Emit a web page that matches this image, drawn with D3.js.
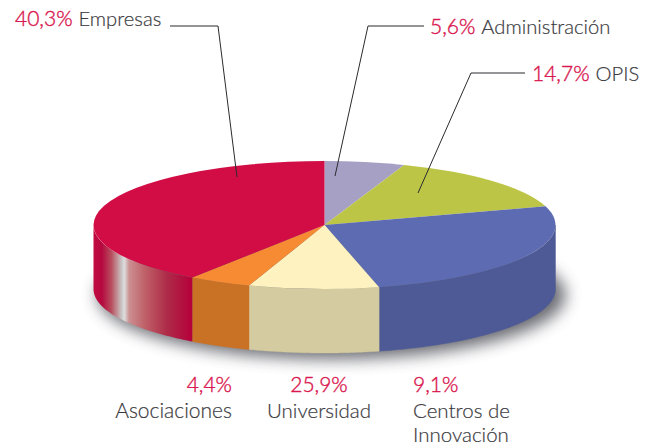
<!DOCTYPE html>
<html>
<head>
<meta charset="utf-8">
<script src="https://cdn.jsdelivr.net/npm/d3@7"></script>
<style>
html,body{margin:0;padding:0;background:#fff;overflow:hidden}
svg{display:block}
text{font-family:Lato,sans-serif;font-weight:300}
</style>
</head>
<body>
<svg id="c" width="654" height="445"></svg>
<script>
// Slice order runs clockwise from 12 o'clock
const sliceKeys = ["admin","opis","centros","universidad","asociaciones","empresas"];
const sliceValues = [5.6,14.7,25.9,9.1,4.4,40.3];
const topColors = ["#a7a0c5","#bdc546","#5d6cb2","#fef2c0","#f68b33","#d20d45"];
const sideColors = ["#8f89ab","#9ea53a","#4e5a96","#d4cba0","#c97226","#b5003a"];

// Labels as printed
const labelPcts = ["40,3%","5,6%","14,7%","4,4%","25,9%","9,1%"];
const labelNames = ["Empresas","Administración","OPIS","Asociaciones","Universidad","Centros de|Innovación"];
const pctColor = "#d9184f", nameColor = "#3a3a40";

const cx=324.5, cy=225, rx=231, ry=64, depth=64;
const svg=d3.select("#c");
const defs=svg.append("defs");

defs.append("filter").attr("id","blur").attr("x","-20%").attr("y","-40%").attr("width","140%").attr("height","180%")
  .append("feGaussianBlur").attr("stdDeviation",8);

const redGrad=defs.append("linearGradient").attr("id","redSide")
  .attr("gradientUnits","userSpaceOnUse").attr("x1",94).attr("x2",192).attr("y1",0).attr("y2",0);
[[0,"#c20a42"],[0.08,"#b5093f"],[0.18,"#b8505f"],[0.28,"#c9c3c3"],[0.31,"#dcdcdc"],[0.36,"#cb8f92"],[0.52,"#bf6068"],[0.75,"#ae2a48"],[1,"#b5003a"]]
  .forEach(([o,c])=>redGrad.append("stop").attr("offset",o).attr("stop-color",c));

const pie=d3.pie().sort(null).value(d=>d)(sliceValues);
const ex=d3.scaleLinear().domain([-1,1]).range([cx-rx,cx+rx]);
const ey=d3.scaleLinear().domain([-1,1]).range([cy-ry,cy+ry]);

// Shadow under the pie
svg.append("ellipse").attr("cx",cx+7).attr("cy",cy+depth+6).attr("rx",rx+3).attr("ry",ry)
  .attr("fill","#55565f").attr("opacity",.88).attr("filter","url(#blur)");

// Side walls: only the part of each arc on the front half of the ellipse is visible
const wall=d3.area().x(d=>ex(Math.sin(d))).y0(d=>ey(-Math.cos(d))).y1(d=>ey(-Math.cos(d))+depth);
svg.append("g").selectAll("path").data(pie).join("path")
  .attr("d",d=>{
    const a0=Math.max(d.startAngle,Math.PI/2), a1=Math.min(d.endAngle,Math.PI*1.5);
    if(a1<=a0) return null;
    return wall(d3.range(0,61).map(i=>a0+(a1-a0)*i/60));
  })
  .attr("fill",(d,i)=>sliceKeys[i]==="empresas"?"url(#redSide)":sideColors[i])
  .attr("stroke",(d,i)=>sliceKeys[i]==="empresas"?"none":sideColors[i]).attr("stroke-width",.4);

// Top face
const arc=d3.arc().innerRadius(0).outerRadius(rx);
svg.append("g").attr("transform",`translate(${cx},${cy}) scale(1,${ry/rx})`)
  .selectAll("path").data(pie).join("path").attr("d",arc)
  .attr("fill",(d,i)=>topColors[i]);

// Leader lines
const leaders=[[[170,26],[218,26],[237,177]],[[424,26],[368,26],[335,176]],[[525,73],[471,73],[418,193]]];
svg.append("g").selectAll("path").data(leaders).join("path")
  .attr("d",d3.line()).attr("fill","none").attr("stroke","#2b2b2f").attr("stroke-width",1);

// Labels
const labelPos=[
  {x:15,y:26,anchor:"start",inline:true,size:20.2},
  {x:430,y:34,anchor:"start",inline:true,size:20.2},
  {x:532,y:81,anchor:"start",inline:true,size:20.2},
  {x:232,y:392,anchor:"end",size:21},
  {x:319,y:392,anchor:"middle",size:20.5},
  {x:413,y:392,anchor:"start",size:20.5}
];
const pctStroke=.4, nameStroke=.2;
const g=svg.append("g");
labelPcts.forEach((p,i)=>{
  const L=labelPos[i], names=labelNames[i].split("|");
  if(L.inline){
    const t=g.append("text").attr("x",L.x).attr("y",L.y).attr("font-size",L.size);
    t.append("tspan").attr("fill",pctColor).attr("stroke",pctColor).attr("stroke-width",pctStroke).attr("font-size",21).text(p);
    t.append("tspan").attr("fill",nameColor).attr("stroke",nameColor).attr("stroke-width",nameStroke).attr("dx",6).text(names[0]);
  } else {
    g.append("text").attr("x",L.x).attr("y",L.y).attr("text-anchor",L.anchor)
      .attr("font-size",21).attr("fill",pctColor).attr("stroke",pctColor).attr("stroke-width",pctStroke).text(p);
    names.forEach((n,k)=>g.append("text").attr("x",L.x).attr("y",L.y+26+k*24)
      .attr("text-anchor",L.anchor).attr("font-size",L.size).attr("fill",nameColor).attr("stroke",nameColor).attr("stroke-width",nameStroke).text(n));
  }
});
</script>
</body>
</html>
